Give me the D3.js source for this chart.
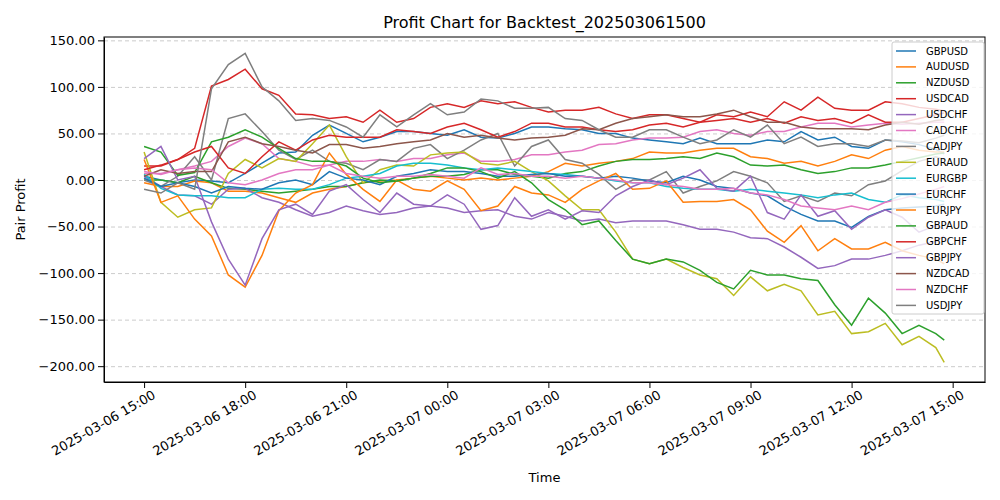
<!DOCTYPE html>
<html>
<head>
<meta charset="utf-8">
<script src="https://cdn.jsdelivr.net/npm/d3@7"></script>
<style>
  body { margin: 0; background: #fff; font-family: "DejaVu Sans", sans-serif; }
  .grid line { stroke: #ccc; stroke-dasharray: 4,3; }
  .grid path { display: none; }
</style>
</head>
<body>
<div class="chart"></div>
<script>
// hours after 2025-03-06 15:00, every 30 min, last point at 14:45
var hours = d3.range(0, 24, 0.5).concat([23.75]);

var pairs = ["GBPUSD", "AUDUSD", "NZDUSD", "USDCAD", "USDCHF", "CADCHF", "CADJPY", "EURAUD",
  "EURGBP", "EURCHF", "EURJPY", "GBPAUD", "GBPCHF", "GBPJPY", "NZDCAD", "NZDCHF", "USDJPY"];
var colors = ["#1f77b4", "#ff7f0e", "#2ca02c", "#d62728", "#9467bd", "#e377c2", "#7f7f7f", "#bcbd22",
  "#17becf", "#1f77b4", "#ff7f0e", "#2ca02c", "#d62728", "#9467bd", "#8c564b", "#e377c2", "#7f7f7f"];

var GBPUSD = [4,0,-3,0,-1,-3,7,18,29,30,48,59,50,41,46,52,52,50,48,54,46,45,50,57,57,55,54,50,50,45,43,41,39,45,39,39,39,43,41,52,43,46,36,34,43,41,38,33,28];
var AUDUSD = [-3,-7,-7,-1,-3,-12,-12,-14,-19,-24,-14,-10,-7,-3,-1,0,2,4,2,0,2,0,2,4,9,18,15,18,20,23,30,29,29,32,34,34,25,23,18,20,15,20,27,23,32,36,32,30,30];
var NZDUSD = [0,0,-3,4,-3,-9,-10,-12,-14,-12,-10,-7,-7,-3,0,-1,2,4,4,6,11,11,6,4,2,7,9,15,20,22,22,23,25,23,29,25,16,15,16,11,7,9,13,13,16,20,24,28,29];
var USDCAD = [15,15,22,34,101,108,119,98,91,71,70,66,68,62,75,62,66,78,82,78,85,82,84,78,73,75,75,78,71,66,70,70,66,62,70,68,73,68,84,75,89,77,75,75,84,82,78,76,74];
var USDCHF = [4,-7,-16,-17,-26,-10,-9,-19,-24,-32,-39,-35,-28,-33,-37,-35,-30,-28,-30,-35,-33,-32,-39,-42,-35,-39,-44,-42,-46,-44,-44,-44,-48,-53,-53,-56,-62,-63,-72,-83,-95,-92,-85,-85,-81,-76,-70,-66,-60];
var CADCHF = [7,7,11,15,20,36,45,39,23,20,15,16,20,20,22,20,23,23,27,29,20,20,22,27,27,30,32,38,39,43,45,45,46,52,54,50,48,52,52,57,61,61,57,59,61,60,61,62,62];
var CADJPY = [0,-7,4,25,0,66,71,52,32,22,32,20,18,11,22,20,34,38,23,32,43,50,15,36,43,22,18,6,-10,0,0,9,-14,-7,-1,9,4,-3,-23,-17,-23,-14,-17,-5,-1,10,20,25,22];
var EURAUD = [30,-24,-40,-32,-30,7,22,13,23,20,39,59,25,-3,11,16,15,27,29,30,18,16,20,9,-1,-17,-32,-32,-56,-85,-90,-85,-94,-102,-106,-124,-104,-119,-112,-119,-145,-141,-165,-163,-154,-177,-168,-180,-196];
var EURGBP = [6,-9,-16,-17,-17,-19,-19,-10,-9,-10,-10,-5,2,4,7,15,18,18,16,13,11,13,11,9,7,6,4,2,-1,-3,-3,-7,-9,-10,-10,-12,-10,-12,-14,-16,-19,-16,-14,-21,-24,-16,-19,-21,-23];
var EURCHF = [2,-7,-3,-7,-14,-7,-9,-10,-3,0,-5,9,2,0,-5,4,7,11,9,9,7,4,4,6,7,4,4,2,4,2,-1,-3,4,0,-7,-9,-14,-17,-28,-37,-44,-44,-51,-39,-32,-30,-29,-28,-26];
var EURJPY = [22,-24,-17,-42,-60,-102,-115,-81,-33,-14,-5,29,6,-10,-23,0,-10,-12,-1,-10,-33,-28,-7,-14,-16,-24,-10,-1,7,-10,-9,-1,-24,-23,-23,-21,-32,-55,-67,-49,-76,-63,-74,-74,-67,-76,-81,-85,-90];
var GBPAUD = [36,30,5,8,41,46,54,46,34,23,20,20,15,2,-3,-1,2,7,13,13,9,2,9,-3,-21,-32,-48,-44,-65,-85,-90,-85,-88,-97,-110,-117,-97,-102,-102,-106,-108,-134,-156,-127,-143,-165,-156,-165,-172];
var GBPCHF = [11,16,22,30,36,13,7,25,41,32,43,48,46,46,46,54,52,50,57,61,54,46,52,61,61,57,57,54,52,54,59,61,57,62,64,66,62,66,61,68,64,66,61,70,62,62,66,70,72];
var GBPJPY = [23,36,0,4,-45,-85,-113,-63,-32,-26,-37,-12,-5,-21,-35,-14,-26,-28,-16,-26,-53,-49,-19,-39,-32,-42,-33,-35,-17,-7,0,-5,2,11,-9,-12,4,-35,-42,-16,-39,-33,-53,-40,-32,-40,-56,-49,-53];
var NZDCAD = [4,11,7,9,9,41,46,39,36,32,29,38,38,34,36,39,41,43,50,46,48,45,43,45,46,48,55,54,61,66,68,70,68,68,71,75,68,62,62,57,55,55,55,54,59,62,60,64,65];
var NZDCHF = [9,6,11,13,11,-3,-5,0,7,11,11,16,7,4,2,4,4,6,4,2,13,6,7,4,4,2,4,2,0,-3,-3,-5,-7,-10,-10,-9,-14,-16,-21,-28,-30,-32,-28,-32,-24,-20,-15,-10,-7];
var USDJPY = [-10,-14,-3,-10,98,124,136,100,85,64,66,64,57,46,70,57,70,82,70,73,87,85,77,77,78,66,64,54,46,46,54,54,46,39,43,54,46,59,39,46,36,39,39,36,43,42,40,45,48];

var seriesValues = [GBPUSD, AUDUSD, NZDUSD, USDCAD, USDCHF, CADCHF, CADJPY, EURAUD,
  EURGBP, EURCHF, EURJPY, GBPAUD, GBPCHF, GBPJPY, NZDCAD, NZDCHF, USDJPY];
var yTicks = [-200, -150, -100, -50, 0, 50, 100, 150];

var start = new Date(2025, 2, 6, 15, 0);
var toTime = h => new Date(start.getTime() + h * 3600000);

var svgWidth = 1000, svgHeight = 500;
var margin = { top: 37, right: 15, bottom: 118, left: 104 };
var width = svgWidth - margin.left - margin.right;
var height = svgHeight - margin.top - margin.bottom;

var svg = d3.select(".chart").append("svg")
  .attr("width", svgWidth).attr("height", svgHeight)
  .style("font-family", "DejaVu Sans, sans-serif");

var chartGroup = svg.append("g")
  .attr("transform", `translate(${margin.left}, ${margin.top})`);

var x = d3.scaleTime()
  .domain([toTime(-1.19), toTime(24.96)])
  .range([0, width]);
var y = d3.scaleLinear()
  .domain([-217, 153.6])
  .range([height, 0]);

// grid
chartGroup.append("g").attr("class", "grid")
  .call(d3.axisLeft(y).tickValues(yTicks).tickSize(-width).tickFormat(""));

// lines
var line = d3.line()
  .x((d, i) => x(toTime(hours[i])))
  .y(d => y(d));

seriesValues.forEach(function(vals, k) {
  chartGroup.append("path")
    .datum(vals)
    .attr("fill", "none")
    .attr("stroke", colors[k])
    .attr("stroke-width", 1.5)
    .attr("d", line);
});

// axes
var xTicks = d3.range(0, 25, 3).map(toTime);
var fmt = d3.timeFormat("%Y-%m-%d %H:%M");
var xAxis = chartGroup.append("g")
  .attr("transform", `translate(0, ${height})`)
  .call(d3.axisBottom(x).tickValues(xTicks).tickFormat(fmt).tickSizeOuter(0))
  .attr("font-family", "DejaVu Sans").attr("font-size", 13);
xAxis.selectAll("text")
  .attr("fill", "#000")
  .style("text-anchor", "end")
  .attr("dx", "0.2em")
  .attr("dy", "0.8em")
  .attr("transform", "rotate(-30)");

var yAxis = chartGroup.append("g")
  .call(d3.axisLeft(y).tickValues(yTicks).tickFormat(d3.format(".2f")).tickSizeOuter(0))
  .attr("font-family", "DejaVu Sans").attr("font-size", 13);
yAxis.selectAll("text").attr("fill", "#000");
chartGroup.selectAll(".domain").attr("stroke", "#000");

// frame
chartGroup.append("rect")
  .attr("width", width).attr("height", height)
  .attr("fill", "none").attr("stroke", "#000").attr("stroke-width", 1);

// titles
svg.append("text")
  .attr("x", margin.left + width / 2).attr("y", 28)
  .attr("text-anchor", "middle").attr("font-size", 16)
  .text("Profit Chart for Backtest_202503061500");
svg.append("text")
  .attr("x", margin.left + width / 2).attr("y", 482)
  .attr("text-anchor", "middle").attr("font-size", 13)
  .text("Time");
svg.append("text")
  .attr("transform", "rotate(-90)")
  .attr("x", -(margin.top + height / 2)).attr("y", 25)
  .attr("text-anchor", "middle").attr("font-size", 13)
  .text("Pair Profit");

// legend
var legend = svg.append("g").attr("transform", "translate(892, 42)");
legend.append("rect")
  .attr("width", 92).attr("height", 272).attr("rx", 2)
  .attr("fill", "#fff").attr("fill-opacity", 0.8).attr("stroke", "#ccc");
pairs.forEach(function(p, k) {
  var row = legend.append("g").attr("transform", `translate(4, ${9 + k * 15.9})`);
  row.append("line").attr("x1", 0).attr("x2", 20)
    .attr("stroke", colors[k]).attr("stroke-width", 1.5);
  row.append("text").attr("x", 30).attr("y", 3.5)
    .attr("font-size", 10).text(p);
});
</script>
</body>
</html>
